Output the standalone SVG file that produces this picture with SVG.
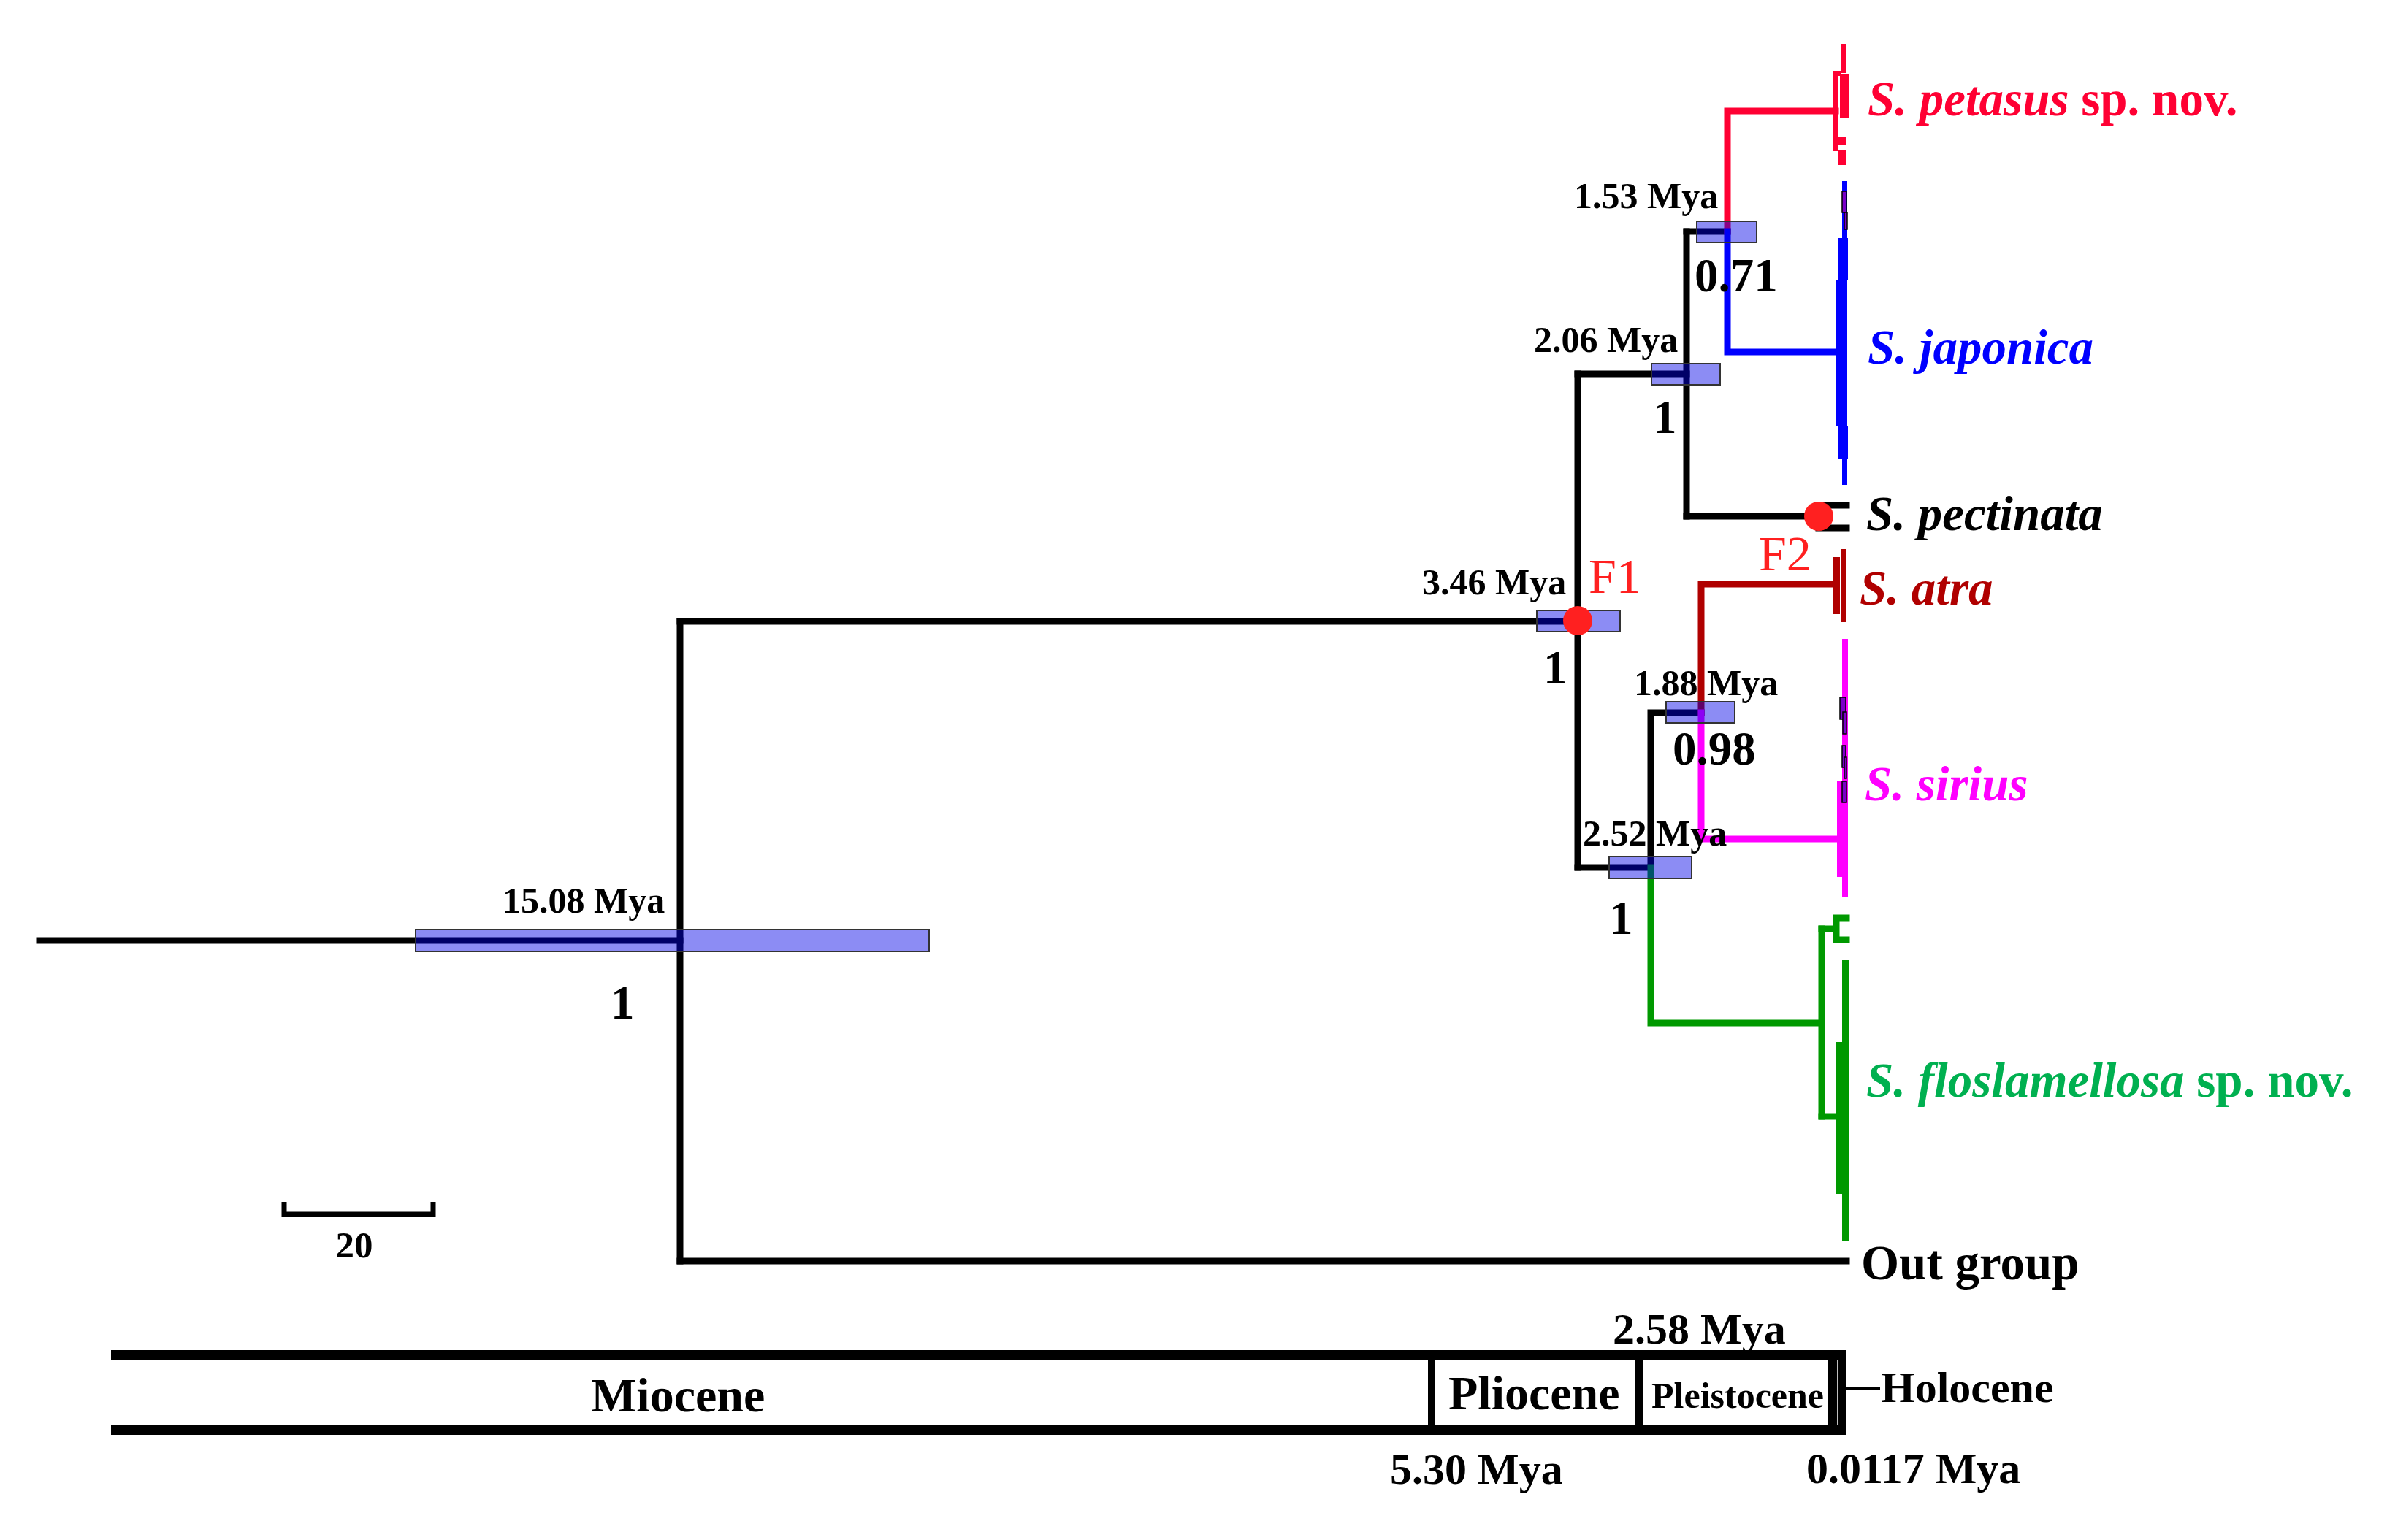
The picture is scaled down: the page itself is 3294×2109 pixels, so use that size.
<svg xmlns="http://www.w3.org/2000/svg" width="3294" height="2109" viewBox="0 0 3294 2109">
<style>
text{font-family:"Liberation Serif","Times New Roman",serif;font-weight:bold;}
.age{font-size:50px;fill:#000;}
.sup{font-size:65px;fill:#000;}
.sp{font-size:67px;}
.it{font-style:italic;}
.fl{font-size:68px;font-weight:normal;fill:#ff2020;}
.hpd{fill:#0000e6;fill-opacity:0.45;stroke:#333;stroke-width:2;}
.br{fill:none;stroke-width:9;stroke-linecap:square;stroke-linejoin:miter;}
.k{stroke:#000;}
.r{stroke:#ff0033;}
.b{stroke:#0000ff;}
.dr{stroke:#b00000;}
.m{stroke:#ff00ff;}
.g{stroke:#009900;}
.ep{font-size:66px;fill:#000;}
.tl{font-size:60px;fill:#000;}
.mini{fill:#7a00c8;stroke:#000;stroke-width:1.5;}
</style>
<rect width="3294" height="2109" fill="#fff"/>

<g id="connectors">
  <path class="br k" d="M54,1288 H931"/>
  <path class="br k" d="M931,851 V1727"/>
  <path class="br k" d="M931,851 H2160"/>
  <path class="br k" d="M931,1727 H2528"/>
  <path class="br k" d="M2160,512 V1188"/>
  <path class="br k" d="M2160,512 H2309"/>
  <path class="br k" d="M2309,317 V707"/>
  <path class="br k" d="M2309,317 H2365"/>
  <path class="br k" d="M2309,707 H2490"/>
  <path class="br k" d="M2490,692 V723 M2490,692 H2528 M2490,723 H2528"/>
  <path class="br r" d="M2365,317 V152 H2513"/>
  <path class="br b" d="M2365,317 V482 H2515"/>
  <path class="br k" d="M2160,1188 H2260 V976 H2329"/>
  <path class="br dr" d="M2329,976 V800 H2512"/>
  <path class="br m" d="M2329,976 V1149 H2515"/>
  <path class="br g" d="M2260,1188 V1401 H2494"/>
  <path class="br g" d="M2494,1272 V1529"/>
  <path class="br g" d="M2494,1272 H2514 M2514,1257 V1287 M2514,1257 H2528 M2514,1287 H2528"/>
  <path class="br g" d="M2494,1529 H2515"/>
</g>

<g id="tip-petasus">
  <g fill="#ff0033">
    <rect x="2520" y="60" width="8" height="40"/>
    <rect x="2509" y="97" width="11" height="7"/>
    <rect x="2509" y="97" width="8" height="110"/>
    <rect x="2519" y="101" width="12" height="61"/>
    <rect x="2517" y="187" width="11" height="12"/>
    <rect x="2516" y="205" width="12" height="21"/>
  </g>
  <text class="sp" x="2557" y="158" fill="#ff0033"><tspan class="it">S. petasus</tspan> sp. nov.</text>
</g>

<g id="tip-japonica">
  <g fill="#0000ff">
    <rect x="2522" y="248" width="7" height="416"/>
    <rect x="2517" y="326" width="13" height="57"/>
    <rect x="2513" y="383" width="16" height="200"/>
    <rect x="2516" y="583" width="14" height="45"/>
  </g>
  <rect class="mini" x="2522" y="262" width="6" height="29" fill="#0000c0"/>
  <rect class="mini" x="2525" y="291" width="4" height="23" fill="#0000c0"/>
  <text class="sp it" x="2557" y="498" fill="#0000ff">S. japonica</text>
</g>

<g id="tip-pectinata">
  <circle cx="2490" cy="707" r="20" fill="#ff2020"/>
  <text class="sp it" x="2555" y="726" fill="#000">S. pectinata</text>
  <text class="fl" x="2408" y="781">F2</text>
</g>

<g id="tip-atra">
  <g fill="#b00000">
    <rect x="2520" y="752" width="8" height="100"/>
    <rect x="2510" y="763" width="9" height="78"/>
  </g>
  <text class="sp it" x="2546" y="828" fill="#b00000">S. atra</text>
</g>

<g id="tip-sirius">
  <g fill="#ff00ff">
    <rect x="2522" y="875" width="8" height="353"/>
    <rect x="2515" y="1070" width="13" height="131"/>
  </g>
  <rect class="mini" x="2519" y="955" width="8" height="30"/>
  <rect class="mini" x="2523" y="975" width="5" height="30"/>
  <rect class="mini" x="2522" y="1021" width="5" height="30"/>
  <rect class="mini" x="2525" y="1037" width="3" height="29"/>
  <rect class="mini" x="2522" y="1070" width="6" height="29"/>
  <text class="sp it" x="2553" y="1096" fill="#ff00ff">S. sirius</text>
</g>

<g id="tip-floslamellosa">
  <g fill="#009900">
    <rect x="2522" y="1315" width="9" height="385"/>
    <rect x="2513" y="1427" width="17" height="208"/>
  </g>
  <text class="sp" x="2555" y="1502" fill="#00b050"><tspan class="it">S. floslamellosa</tspan> sp. nov.</text>
</g>

<g id="tip-outgroup">
  <text class="sp" x="2548" y="1752" fill="#000" font-size="66">Out group</text>
</g>

<g id="node-root">
  <rect class="hpd" x="569" y="1273" width="703" height="30"/>
  <text class="age" x="688" y="1250">15.08 Mya</text>
  <text class="sup" x="836" y="1395">1</text>
</g>

<g id="node-F1">
  <rect class="hpd" x="2104" y="836" width="114" height="29"/>
  <circle cx="2160" cy="850" r="20" fill="#ff2020"/>
  <text class="age" x="1947" y="814">3.46 Mya</text>
  <text class="sup" x="2113" y="936">1</text>
  <text class="fl" x="2175" y="812">F1</text>
</g>

<g id="node-206">
  <rect class="hpd" x="2261" y="498" width="94" height="29"/>
  <text class="age" x="2100" y="482">2.06 Mya</text>
  <text class="sup" x="2263" y="593">1</text>
</g>

<g id="node-153">
  <rect class="hpd" x="2323" y="303" width="82" height="29"/>
  <text class="age" x="2155" y="285">1.53 Mya</text>
  <text class="sup" x="2320" y="399">0.71</text>
</g>

<g id="node-188">
  <rect class="hpd" x="2281" y="961" width="94" height="29"/>
  <text class="age" x="2237" y="952">1.88 Mya</text>
  <text class="sup" x="2290" y="1047">0.98</text>
</g>

<g id="node-252">
  <rect class="hpd" x="2203" y="1173" width="113" height="30"/>
  <text class="age" x="2167" y="1158">2.52 Mya</text>
  <text class="sup" x="2203" y="1279">1</text>
</g>

<g id="scale-bar">
  <path d="M389,1646 V1663 H593 V1646" fill="none" stroke="#000" stroke-width="7"/>
  <text x="485" y="1722" font-size="51" text-anchor="middle">20</text>
</g>

<g id="timescale">
  <rect x="152" y="1849" width="2376" height="13" fill="#000"/>
  <rect x="152" y="1952" width="2376" height="13" fill="#000"/>
  <rect x="1955" y="1862" width="10" height="90" fill="#000"/>
  <rect x="2238" y="1862" width="11" height="90" fill="#000"/>
  <rect x="2503" y="1849" width="25" height="116" fill="#000"/>
  <line x1="2516" y1="1862" x2="2516" y2="1952" stroke="#fff" stroke-width="1.5"/>
  <line x1="2528" y1="1902" x2="2574" y2="1902" stroke="#000" stroke-width="4"/>
  <text class="ep" x="809" y="1933">Miocene</text>
  <text class="ep" x="1983" y="1930">Pliocene</text>
  <text x="2261" y="1928" font-size="50">Pleistocene</text>
  <text class="tl" x="2575" y="1920">Holocene</text>
  <text class="tl" x="2208" y="1840">2.58 Mya</text>
  <text class="tl" x="1903" y="2032">5.30 Mya</text>
  <text class="tl" x="2473" y="2031">0.0117 Mya</text>
</g>
</svg>
